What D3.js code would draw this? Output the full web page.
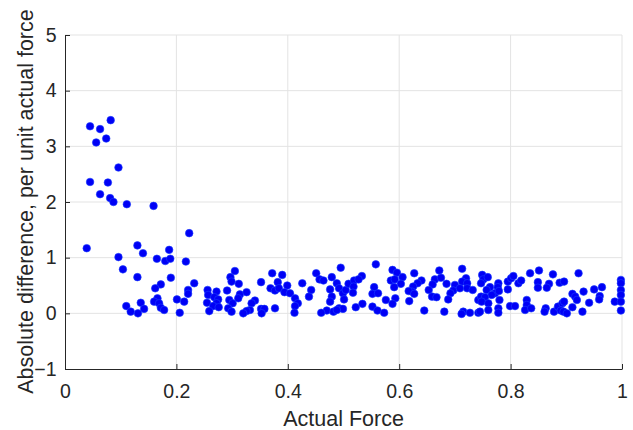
<!DOCTYPE html>
<html><head><meta charset="utf-8">
<script src="https://cdn.jsdelivr.net/npm/d3@7"></script>
<style>body{margin:0;background:#fff}svg{display:block}text{font-family:"Liberation Sans",Arial,sans-serif;fill:#262626}</style>
</head><body><svg id="c" width="633" height="430"></svg>
<script>
const xTicks = [0, 0.2, 0.4, 0.6, 0.8, 1];
const yTicks = [-1, 0, 1, 2, 3, 4, 5];
const xLabel = "Actual Force";
const yLabel = "Absolute difference, per unit actual force";
const actualForce = [
0.045,0.063,0.082,0.056,0.074,0.096,0.045,0.077,0.063,0.081,0.087,0.111,0.159,0.223,0.039,0.130,0.187,0.096,0.140,0.104,
0.130,0.165,0.180,0.189,0.217,0.190,0.232,0.172,0.162,0.221,0.221,0.166,0.160,0.169,0.201,0.214,0.110,0.136,0.142,0.172,
0.178,0.118,0.131,0.206,
0.256,0.257,0.272,0.255,0.268,0.275,0.272,0.266,0.276,0.259,0.297,0.305,0.299,0.312,0.291,0.314,0.326,0.295,0.301,0.293,
0.299,0.311,0.341,0.335,0.332,0.326,0.320,0.352,0.358,0.353,0.377,0.352,0.372,0.390,0.382,0.369,0.377,0.384,0.399,0.394,
0.404,0.413,0.418,0.413,0.412,0.426,0.442,0.438,0.451,0.457,0.464,0.479,0.476,0.479,0.476,0.470,0.460,0.482,
0.495,0.488,0.492,0.499,0.504,0.509,0.519,0.533,0.527,0.518,0.517,0.501,0.492,0.499,0.488,0.522,0.534,0.558,0.555,0.552,
0.562,0.576,0.552,0.561,0.573,0.588,0.596,0.585,0.592,0.606,0.603,0.591,0.593,0.588,0.627,0.640,0.633,0.625,0.623,0.617,
0.627,0.618,0.645,0.672,0.664,0.675,0.660,0.653,0.659,0.667,0.685,0.700,0.697,0.692,0.688,0.681,0.713,0.720,0.713,0.722,
0.709,0.722,0.732,0.715,0.712,0.727,0.742,0.742,
0.749,0.751,0.759,0.747,0.763,0.757,0.778,0.777,0.772,0.766,0.779,0.747,0.754,0.748,0.760,0.780,0.760,0.745,0.778,0.778,
0.795,0.795,0.801,0.805,0.814,0.819,0.799,0.808,0.829,0.829,0.826,0.837,0.835,0.851,0.849,0.849,0.869,0.865,0.876,0.888,
0.896,0.863,0.861,0.878,0.885,0.893,0.896,0.890,0.895,0.901,0.911,0.916,0.919,0.911,0.922,0.931,0.941,0.929,0.950,0.964,
0.960,0.959,0.987,0.998,0.998,0.998,0.998,0.998,0.998
];
const absDiff = [
3.36,3.31,3.47,3.07,3.14,2.62,2.36,2.35,2.14,2.07,2.00,1.96,1.93,1.44,1.17,1.22,1.14,1.01,1.08,0.79,
0.65,0.98,0.94,0.98,0.93,0.64,0.54,0.52,0.45,0.42,0.35,0.27,0.21,0.18,0.25,0.21,0.13,0.19,0.08,0.10,
0.06,0.03,0.00,0.01,
0.42,0.33,0.39,0.19,0.29,0.25,0.18,0.13,0.11,0.04,0.65,0.76,0.57,0.53,0.41,0.34,0.38,0.24,0.18,0.09,
0.03,0.27,0.23,0.18,0.06,0.04,0.00,0.08,0.08,0.00,0.09,0.56,0.72,0.69,0.56,0.45,0.41,0.45,0.50,0.38,
0.36,0.27,0.18,0.13,0.01,0.54,0.42,0.30,0.72,0.61,0.59,0.65,0.43,0.30,0.21,0.05,0.01,0.03,
0.82,0.54,0.45,0.36,0.42,0.53,0.59,0.67,0.61,0.48,0.37,0.25,0.09,0.08,0.06,0.11,0.17,0.88,0.47,0.35,
0.36,0.24,0.12,0.05,0.01,0.78,0.73,0.59,0.61,0.65,0.53,0.47,0.27,0.17,0.72,0.59,0.54,0.48,0.39,0.40,
0.35,0.22,0.05,0.77,0.61,0.64,0.52,0.42,0.30,0.29,0.53,0.51,0.41,0.36,0.25,0.03,0.80,0.63,0.57,0.54,
0.45,0.45,0.42,0.03,-0.01,0.01,0.24,0.01,
0.69,0.61,0.65,0.54,0.47,0.42,0.54,0.47,0.36,0.33,0.40,0.30,0.29,0.21,0.18,0.24,0.06,0.03,0.09,0.01,
0.43,0.57,0.63,0.67,0.54,0.59,0.13,0.13,0.24,0.15,0.06,0.09,0.72,0.77,0.56,0.46,0.53,0.46,0.70,0.55,
0.57,0.09,0.03,0.03,0.12,0.18,0.21,0.05,0.03,0.00,0.35,0.30,0.24,0.11,0.72,0.39,0.19,0.03,0.43,0.47,
0.31,0.25,0.21,0.60,0.54,0.42,0.33,0.21,0.05
];

const svg = d3.select("#c");
const L = 65, R = 622, T = 35, B = 369;
const x = d3.scaleLinear().domain([0, 1]).range([L, R]);
const y = d3.scaleLinear().domain([-1, 5]).range([B, T]);
const axisCol = "#262626";
const tickFont = "19.5px", labelFont = "21.5px";

// grid
svg.append("g").selectAll("line").data(xTicks.filter(d => d > 0)).join("line")
  .attr("x1", d => x(d)).attr("x2", d => x(d)).attr("y1", T).attr("y2", B)
  .attr("stroke", "#e3e3e3").attr("stroke-width", 1);
svg.append("g").selectAll("line").data(yTicks.filter(d => d > -1)).join("line")
  .attr("x1", L).attr("x2", R).attr("y1", d => y(d)).attr("y2", d => y(d))
  .attr("stroke", "#e3e3e3").attr("stroke-width", 1);

// axes
const xAxis = svg.append("g").attr("transform", `translate(0,${B})`)
  .call(d3.axisBottom(x).tickValues(xTicks).tickSizeInner(-5).tickSizeOuter(0).tickPadding(15.5).tickFormat(d3.format("~g")));
const yAxis = svg.append("g").attr("transform", `translate(${L},0)`)
  .call(d3.axisLeft(y).tickValues(yTicks).tickSizeInner(-5).tickSizeOuter(0).tickPadding(8.5).tickFormat(d3.format("~g")));
[xAxis, yAxis].forEach(g => {
  g.select(".domain").attr("stroke", axisCol).attr("stroke-width", 1);
  g.selectAll(".tick line").attr("stroke", axisCol);
  g.selectAll(".tick text").attr("fill", axisCol).style("font-size", tickFont)
   .style("font-family", '"Liberation Sans", Arial, sans-serif');
});

// points
svg.append("g").selectAll("circle").data(actualForce.map((d, i) => [d, absDiff[i]])).join("circle")
  .attr("cx", d => x(d[0])).attr("cy", d => y(d[1])).attr("r", 3.8)
  .attr("fill", "#0000f5").attr("stroke", "#1a3cff").attr("stroke-width", 0.6);

// labels
svg.append("text").attr("x", (L + R) / 2).attr("y", 426).attr("text-anchor", "middle")
  .style("font-size", labelFont).text(xLabel);
svg.append("text").attr("transform", `translate(33,201.5) rotate(-90)`).attr("text-anchor", "middle")
  .style("font-size", labelFont).text(yLabel);
</script>
</body></html>
